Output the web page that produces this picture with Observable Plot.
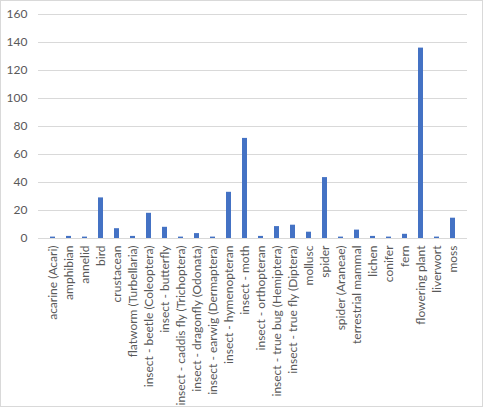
<!DOCTYPE html>
<html>
<head>
<meta charset="utf-8">
<script src="https://cdn.jsdelivr.net/npm/d3@7"></script>
<script src="https://cdn.jsdelivr.net/npm/@observablehq/plot@0.6"></script>
<style>
  html, body { margin: 0; padding: 0; background: #fff; }
  #chart svg { display: block; outline: 1px solid #d9d9d9; outline-offset: -1px; }
</style>
</head>
<body>
<div id="chart"></div>
<script>
const categories = [
  "acarine (Acari)", "amphibian", "annelid", "bird", "crustacean",
  "flatworm (Turbellaria)", "insect - beetle (Coleoptera)", "insect - butterfly",
  "insect - caddis fly (Trichoptera)", "insect - dragonfly (Odonata)",
  "insect - earwig (Dermaptera)", "insect - hymenopteran", "insect - moth",
  "insect - orthopteran", "insect - true bug (Hemiptera)", "insect - true fly (Diptera)",
  "mollusc", "spider", "spider (Araneae)", "terrestrial mammal", "lichen",
  "conifer", "fern", "flowering plant", "liverwort", "moss"
];
const values = [
  1, 1.5, 1, 29, 7,
  1.5, 18, 8,
  1, 3.5,
  1, 33, 71.5,
  1.5, 8.5, 9.5,
  4.5, 43.5, 1, 6, 1.5,
  1, 3, 136, 1, 14.5
];
const yTicks = [0, 20, 40, 60, 80, 100, 120, 140, 160];

const data = categories.map((c, i) => ({category: c, value: values[i]}));
const font = "Lato, 'Open Sans', sans-serif";

const chart = Plot.plot({
  width: 483,
  height: 407,
  marginLeft: 38,
  marginRight: 16,
  marginTop: 14,
  marginBottom: 169,
  style: {fontFamily: font, fontSize: "12px", color: "#595959", background: "#fff"},
  x: {domain: categories, paddingInner: 0.67, paddingOuter: 0.335, label: null},
  y: {domain: [0, 160], ticks: yTicks, label: null},
  marks: [
    Plot.gridY(yTicks, {stroke: "#d9d9d9", strokeOpacity: 1}),
    Plot.barY(data, {x: "category", y: "value", fill: "#4472C4"}),
    Plot.ruleY([0], {stroke: "#d9d9d9", strokeWidth: 1}),
    Plot.axisY(yTicks, {tickSize: 0, tickPadding: 11, fill: "#595959", fontSize: 12, label: null}),
    Plot.axisX({tickSize: 0, tickPadding: 7, tickRotate: -90, fill: "#595959", fontSize: 12, label: null})
  ]
});
document.getElementById("chart").appendChild(chart);
</script>
</body>
</html>
